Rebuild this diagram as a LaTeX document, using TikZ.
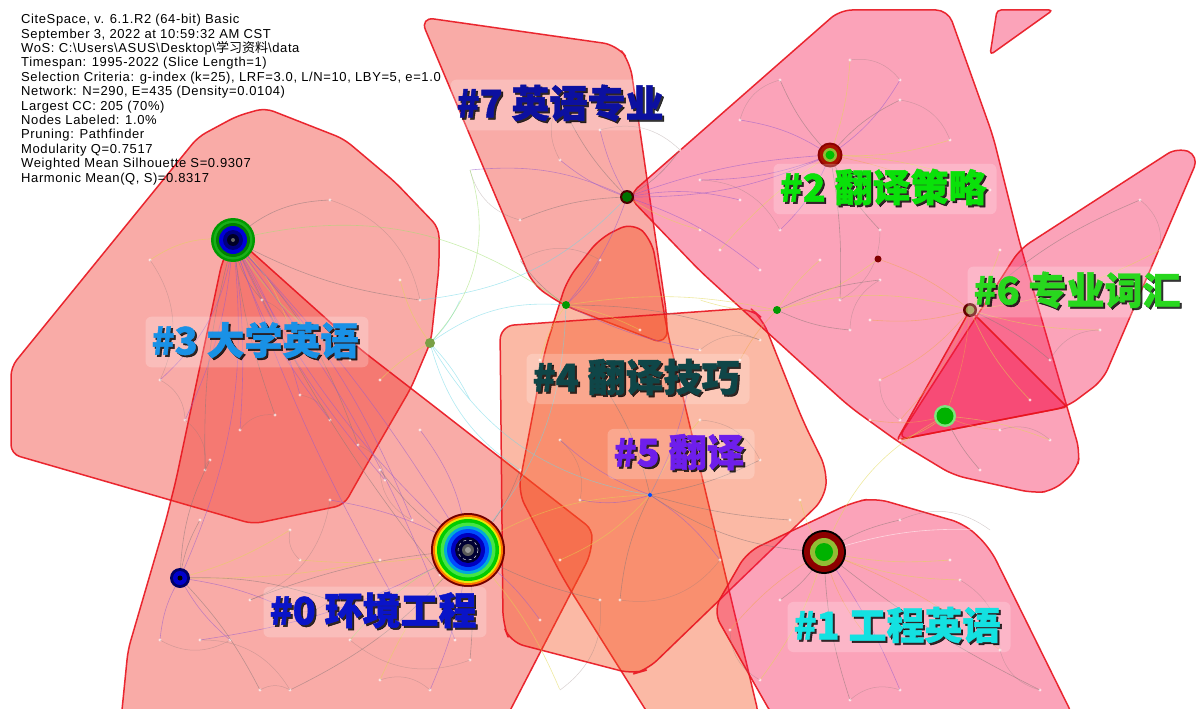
\documentclass[tikz,border=0pt]{standalone}
\usepackage{fontspec}
\setmainfont{Liberation Sans}
\newfontfamily\cjk{Noto Sans CJK SC}
\newfontfamily\lblfont[BoldFeatures={FakeBold=1.2}]{Noto Sans CJK SC}
\newfontfamily\infofont[LetterSpace=4.7]{Liberation Sans}
\definecolor{hullred}{RGB}{240,45,35}
\definecolor{hullpink}{RGB}{245,25,80}
\definecolor{hullorange}{RGB}{245,80,30}
\definecolor{edgered}{RGB}{232,20,30}
\definecolor{lpurple}{RGB}{150,90,205}
\definecolor{lgray}{RGB}{140,120,120}
\definecolor{lyellow}{RGB}{225,215,80}
\definecolor{lcyan}{RGB}{110,215,230}
\definecolor{lgreen}{RGB}{160,225,110}
\definecolor{lorange}{RGB}{240,165,80}
\definecolor{c7}{RGB}{12,16,160}
\definecolor{c2}{RGB}{10,225,10}
\definecolor{c6}{RGB}{40,215,30}
\definecolor{c3}{RGB}{25,145,230}
\definecolor{c4}{RGB}{15,70,72}
\definecolor{c5}{RGB}{110,30,235}
\definecolor{c0}{RGB}{10,20,200}
\definecolor{c1}{RGB}{20,225,225}
\tikzset{
  hull/.style={draw=edgered, line width=1.5pt, draw opacity=0.9, fill opacity=0.4, rounded corners=9pt, line join=round},
  link/.style={line width=0.6pt, draw opacity=0.55},
  faint/.style={line width=0.5pt, draw opacity=0.35},
  leaf/.style={fill=white, fill opacity=0.7},
  lblshadow/.style={font=\lblfont\bfseries\fontsize{38}{38}\selectfont, text=black, text opacity=0.8, fill=white, fill opacity=0.22, rounded corners=6pt, inner xsep=8pt, inner ysep=7pt},
  lbltext/.style={font=\lblfont\bfseries\fontsize{38}{38}\selectfont, inner xsep=8pt, inner ysep=7pt},
}
\newcommand{\clabel}[4]{%
  \node[lblshadow, xshift=2pt, yshift=-2pt] at (#2) {#4};
  \node[lbltext, text=#3] (#1) at (#2) {#4};
}
\begin{document}
\begin{tikzpicture}[x=1pt,y=-1pt]
\useasboundingbox (0,0) rectangle (1197,709);
\begin{scope}
\clip (0,0) rectangle (1197,709);
% ---------- cluster hulls
\path[hull, fill=hullred] (11,367) -- (198,137) -- (237,116) -- (265,108) -- (344,139) -- (395,182) -- (439,228) -- (439,267) -- (431,341) -- (411,388) -- (375,450) -- (344,505) -- (253,524) -- (11,454) -- cycle;
\path[hull, fill=hullred] (233,240) -- (245,246) -- (360,349) -- (435,407) -- (593,530) -- (590,556) -- (500,730) -- (120,730) -- (128,650) -- (166,520) -- (176,480) -- (222,262) -- cycle;
\path[hull, fill=hullred, rounded corners=14pt] (420,17) -- (617,45) -- (630,62) -- (667,317) -- (667,345) -- (563,305) -- (533,285) -- cycle;
\path[hull, fill=hullorange, rounded corners=14pt] (633,222) -- (652,240) -- (667,330) -- (760,720) -- (652,720) -- (564,580) -- (518,492) -- (545,350) -- (567,280) -- (600,238) -- cycle;
\path[hull, fill=hullorange, rounded corners=14pt] (500,326) -- (750,308) -- (762,318) -- (803,421) -- (827,470) -- (825,498) -- (647,670) -- (633,674) -- (510,642) -- (503,624) -- cycle;
\path[hull, fill=hullpink, rounded corners=12pt] (628,196) -- (840,10) -- (948,10) -- (993,136) -- (1020,244) -- (1080,452) -- (1077,470) -- (1053,491) -- (1033,493) -- (953,475) -- (900,443) -- (850,407) -- (800,362) -- (700,271) -- cycle;
\path[hull, fill=hullpink, rounded corners=4pt] (990,55) -- (997,10) -- (1053,10) -- cycle;
\path[hull, fill=hullpink, rounded corners=12pt] (897,440) -- (1020,249) -- (1178,147) -- (1199,156) -- (1103,380) -- (1067,407) -- cycle;
\path[hull, fill=hullpink, rounded corners=3pt] (970,310) -- (897,440) -- (1067,407) -- cycle;
\path[hull, fill=hullpink, rounded corners=14pt] (713,611) -- (747,552) -- (853,502) -- (875,498) -- (965,524) -- (990,548) -- (1075,720) -- (775,720) -- cycle;
\end{scope}
% ---------- hub nodes (positions)
\coordinate (n3) at (233,240);
\coordinate (n0) at (468,550);
\coordinate (n0b) at (180,578);
\coordinate (n2) at (830,155);
\coordinate (n7s) at (627,197);
\coordinate (n1) at (824,552);
\coordinate (n6) at (970,310);
\coordinate (n6g) at (945,416);
\coordinate (n5) at (650,495);
\coordinate (n4s) at (566,305);
\coordinate (n2s) at (777,310);
\coordinate (n3s) at (430,343);
\coordinate (n2d) at (878,259);
% ---------- links
\begin{scope}
\clip (0,0) rectangle (1197,709);
\foreach \x/\y/\c/\b [count=\i] in {185/420/lpurple/10, 205/470/lgray/-8, 240/430/lpurple/6, 275/415/lgray/-6, 300/395/lpurple/8, 330/420/lpurple/-10, 358/445/lgray/12, 385/480/lpurple/-8, 412/520/lpurple/10, 440/575/lgray/-6, 290/330/lyellow/15, 262/300/lgray/-15, 160/380/lpurple/20, 350/360/lgreen/-12, 150/260/lyellow/-20, 330/200/lgray/20, 420/300/lgray/-10, 455/640/lpurple/8, 395/600/lpurple/-5}{
  \coordinate (a\i) at (\x,\y);
  \draw[link, \c] (n3) to[bend left=\b] (a\i);
  \fill[leaf] (a\i) circle (1.6);
}
\foreach \x/\y/\c/\b [count=\i] in {380/470/lgray/10, 330/500/lpurple/-10, 300/560/lyellow/8, 250/600/lgray/-8, 200/640/lpurple/10, 290/690/lgray/12, 380/680/lyellow/-10, 430/690/lpurple/8, 520/470/lgray/-12, 540/620/lpurple/10, 600/600/lgray/-8, 560/690/lyellow/10, 420/430/lpurple/-15, 470/660/lgray/6, 350/640/lgreen/-12}{
  \coordinate (b\i) at (\x,\y);
  \draw[link, \c] (n0) to[bend left=\b] (b\i);
  \fill[leaf] (b\i) circle (1.6);
}
\foreach \x/\y/\c/\b [count=\i] in {200/520/lgray/10, 230/640/lpurple/-10, 260/690/lgray/8, 290/530/lyellow/-8, 330/600/lgray/10, 160/640/lpurple/-12, 210/460/lgray/12, 380/560/lyellow/-6, 290/610/lpurple/8}{
  \coordinate (c\i) at (\x,\y);
  \draw[link, \c] (n0b) to[bend left=\b] (c\i);
  \fill[leaf] (c\i) circle (1.6);
}
\foreach \x/\y/\c/\b [count=\i] in {700/180/lpurple/10, 740/120/lpurple/-12, 780/80/lgray/10, 850/60/lyellow/-8, 900/100/lgray/12, 950/140/lyellow/-10, 960/200/lorange/8, 880/230/lgray/-10, 780/230/lpurple/12, 720/250/lyellow/-8, 840/300/lgray/6, 900/80/lpurple/-12, 990/190/lyellow/10}{
  \coordinate (d\i) at (\x,\y);
  \draw[link, \c] (n2) to[bend left=\b] (d\i);
  \fill[leaf] (d\i) circle (1.6);
}
\draw[link, lpurple] (n2) to[bend right=8] (n7s);
\draw[link, lpurple] (n2) to[bend left=12] (n7s);
\foreach \x/\y/\c/\b [count=\i] in {560/160/lpurple/10, 520/220/lgray/-10, 600/130/lpurple/8, 700/230/lyellow/-8, 760/270/lpurple/10, 680/150/lgray/-12, 740/200/lpurple/12, 470/170/lpurple/-15, 560/100/lgray/10}{
  \coordinate (e\i) at (\x,\y);
  \draw[link, \c] (n7s) to[bend left=\b] (e\i);
  \fill[leaf] (e\i) circle (1.6);
}
\foreach \x/\y/\c/\b [count=\i] in {900/520/lgray/10, 960/580/lyellow/-10, 1000/650/lorange/8, 850/700/lgray/-8, 760/680/lyellow/10, 730/630/lorange/-10, 780/600/lgray/12, 950/560/lyellow/-8, 900/690/lpurple/6, 1040/690/lgray/-6, 800/500/lyellow/10, 870/640/lorange/-12, 990/530/white/10}{
  \coordinate (f\i) at (\x,\y);
  \draw[link, \c] (n1) to[bend left=\b] (f\i);
  \fill[leaf] (f\i) circle (1.6);
}
\foreach \x/\y/\c/\b [count=\i] in {900/420/lorange/10, 1030/400/lyellow/-10, 1050/360/lgray/8, 1100/330/lyellow/-8, 1140/200/lgray/10, 1160/250/lyellow/-10, 880/380/lorange/12, 1000/250/lyellow/-8, 870/320/lorange/10}{
  \coordinate (g\i) at (\x,\y);
  \draw[link, \c] (n6) to[bend left=\b] (g\i);
  \fill[leaf] (g\i) circle (1.6);
}
\draw[link, lorange] (n6) to[bend left=8] (n6g);
\foreach \x/\y/\c/\b [count=\i] in {900/440/lyellow/10, 1000/430/lorange/-10, 1050/440/lyellow/8, 980/470/lgray/-8, 870/420/lorange/12}{
  \coordinate (h\i) at (\x,\y);
  \draw[link, \c] (n6g) to[bend left=\b] (h\i);
  \fill[leaf] (h\i) circle (1.6);
}
\foreach \x/\y/\c/\b [count=\i] in {560/440/lpurple/10, 600/380/lgray/-10, 700/420/lyellow/8, 760/460/lgray/-8, 720/560/lpurple/10, 620/600/lgray/-10, 560/560/lyellow/12, 690/380/lpurple/-8, 580/500/lpurple/14, 790/520/lgray/-6}{
  \coordinate (k\i) at (\x,\y);
  \draw[link, \c] (n5) to[bend left=\b] (k\i);
  \fill[leaf] (k\i) circle (1.6);
}
\foreach \x/\y/\c/\b [count=\i] in {520/260/lgray/10, 600/260/lpurple/-10, 640/330/lyellow/8, 700/350/lpurple/-8, 760/340/lgray/10, 540/360/lyellow/-10}{
  \coordinate (m\i) at (\x,\y);
  \draw[link, \c] (n4s) to[bend left=\b] (m\i);
  \fill[leaf] (m\i) circle (1.6);
}
\foreach \x/\y/\c/\b [count=\i] in {700/300/lyellow/10, 850/330/lgray/-10, 820/260/lyellow/8, 740/360/lorange/-8, 880/280/lgray/10}{
  \coordinate (q\i) at (\x,\y);
  \draw[link, \c] (n2s) to[bend left=\b] (q\i);
  \fill[leaf] (q\i) circle (1.6);
}
\foreach \x/\y/\c/\b [count=\i] in {400/280/lyellow/10, 460/300/lcyan/-10, 470/400/lcyan/8, 380/380/lyellow/-8}{
  \coordinate (r\i) at (\x,\y);
  \draw[link, \c] (n3s) to[bend left=\b] (r\i);
  \fill[leaf] (r\i) circle (1.6);
}
% faint leaf-to-leaf arcs
\foreach \p/\q/\c in {a1/a2/lgray, a2/c7/lgray, a3/a4/lgray, a5/a6/lgray, a7/a8/lgray, a9/b1/lgray, a13/a1/lgray, a15/a13/lgray, a16/a17/lgray, a12/a11/lgray, b2/b4/lgray, b3/c4/lgray, b5/b6/lgray, b7/b8/lgray, b11/b12/lgray, b14/b15/lgray, c2/c6/lgray, c3/b6/lgray, c5/c9/lgray, d1/d9/lgray, d2/d3/lgray, d4/d12/lgray, d5/d6/lgray, d7/d13/lgray, d8/d11/lgray, e1/e9/lgray, e2/e8/lgray, e3/e6/lgray, f1/f13/lgray, f2/f3/lgray, f4/f9/lgray, f5/f6/lgray, f10/f3/lgray, g1/g7/lgray, g3/g4/lgray, g5/g6/lgray, h2/h3/lgray, k1/k9/lgray, k2/k8/lgray, k3/k4/lgray, k5/k6/lgray, m1/m2/lgray, m4/m5/lgray, q2/q5/lgray}{
  \draw[faint, \c] (\p) to[bend left=30] (\q);
}
% long links
\draw[link, lcyan] (n3s) to[bend left=20] (n4s);
\draw[link, lcyan] (n3s) to[bend right=25] (n5);
\draw[link, lgreen] (n3) to[bend left=25] (n4s);
\draw[link, lcyan] (a17) to[bend right=20] (n7s);
\draw[link, lpurple] (n3) to[bend right=10] (n0);
\draw[link, lpurple] (n3) to[bend left=6] (n0);
\draw[link, lpurple] (n3) to[bend left=15] (n0b);
\draw[link, lyellow] (n4s) to[bend left=10] (n2s);
\draw[link, lpurple] (n4s) to[bend right=10] (n7s);
\draw[link, lyellow] (n2s) to[bend right=10] (n2d);
\draw[link, lorange] (n2d) to[bend left=10] (n6);
\draw[link, lgray] (n5) to[bend right=15] (n1);
\draw[link, lyellow] (n0) to[bend left=15] (n5);
\draw[link, lcyan] (n0) to[bend right=20] (n4s);
\draw[link, lgreen] (e8) to[bend left=30] (n3s);
\draw[link, lyellow] (n2s) to[bend left=15] (n6);
\draw[link, lcyan] (n3s) to[bend right=20] (b9);
\draw[link, lyellow] (n1) to[bend left=20] (n6g);
\end{scope}
% ---------- cluster nodes
\fill[green!60!black] (n3) circle (22);
\fill[green!65!black!90] (n3) circle (19.5);
\fill[black!50!green] (n3) circle (17);
\fill[blue!85!black] (n3) circle (14);
\fill[blue!50!black] (n3) circle (10);
\fill[black!85!blue] (n3) circle (6);
\fill[black!60] (n3) circle (2);
%
\fill[red!45!black] (n0) circle (37);
\fill[orange!90!red] (n0) circle (35);
\fill[yellow!90!green] (n0) circle (33);
\fill[green!80!black] (n0) circle (31);
\fill[green!70!white!90!black] (n0) circle (27.5);
\fill[cyan!85!green] (n0) circle (24);
\fill[blue!70!cyan] (n0) circle (21);
\fill[blue!75!black] (n0) circle (17);
\fill[black!80!blue] (n0) circle (13);
\draw[white!70!gray, dashed, line width=0.5pt] (n0) circle (10);
\fill[black!65] (n0) circle (6);
\fill[black!40] (n0) circle (3);
%
\fill[black] (n1) circle (22);
\fill[red!55!black] (n1) circle (20);
\fill[yellow!60!green!85!black] (n1) circle (14);
\fill[green!70!black] (n1) circle (9);
%
\fill[red!55!black] (n2) circle (12.5);
\fill[red!60!black!85!orange] (n2) circle (10.5);
\fill[yellow!60!green!85!black] (n2) circle (7);
\fill[green!75!black] (n2) circle (4.5);
%
\fill[black!70!red] (n7s) circle (7);
\fill[green!45!black] (n7s) circle (5);
\fill[red!40!black] (n6) circle (7);
\fill[yellow!55!black] (n6) circle (4.5);
\fill[green!45!white!90!black] (n6g) circle (11);
\fill[green!70!black] (n6g) circle (8.5);
\fill[blue!40!black] (n0b) circle (10);
\fill[blue!80!black] (n0b) circle (7);
\fill[black] (n0b) circle (2.5);
\fill[yellow!50!green!70!black] (n3s) circle (5);
\fill[green!60!black] (n4s) circle (4);
\fill[green!60!black] (n2s) circle (4);
\fill[red!50!black] (n2d) circle (3.5);
\fill[blue!70!cyan] (n5) circle (2);
% ---------- labels
\clabel{l7}{560,103}{c7}{\#7 英语专业}
\clabel{l2}{883,187}{c2}{\#2 翻译策略}
\clabel{l6}{1077,290}{c6}{\#6 专业词汇}
\clabel{l3}{255,340}{c3}{\#3 大学英语}
\clabel{l4}{636,377}{c4}{\#4 翻译技巧}
\clabel{l5}{679,452}{c5}{\#5 翻译}
\clabel{l0}{373,610}{c0}{\#0 环境工程}
\clabel{l1}{897,625}{c1}{\#1 工程英语}
% ---------- info block
\node[anchor=north west, align=left, inner sep=0pt, font=\infofont\fontsize{13}{14.4}\selectfont] (info) at (21,14) {%
CiteSpace, v. 6.1.R2 (64-bit) Basic\\
September 3, 2022 at 10:59:32 AM CST\\
WoS: C:\textbackslash Users\textbackslash ASUS\textbackslash Desktop\textbackslash{\cjk 学习资料}\textbackslash data\\
Timespan: 1995-2022 (Slice Length=1)\\
Selection Criteria: g-index (k=25), LRF=3.0, L/N=10, LBY=5, e=1.0\\
Network: N=290, E=435 (Density=0.0104)\\
Largest CC: 205 (70\%)\\
Nodes Labeled: 1.0\%\\
Pruning: Pathfinder\\
Modularity Q=0.7517\\
Weighted Mean Silhouette S=0.9307\\
Harmonic Mean(Q, S)=0.8317};
\end{tikzpicture}
\end{document}
